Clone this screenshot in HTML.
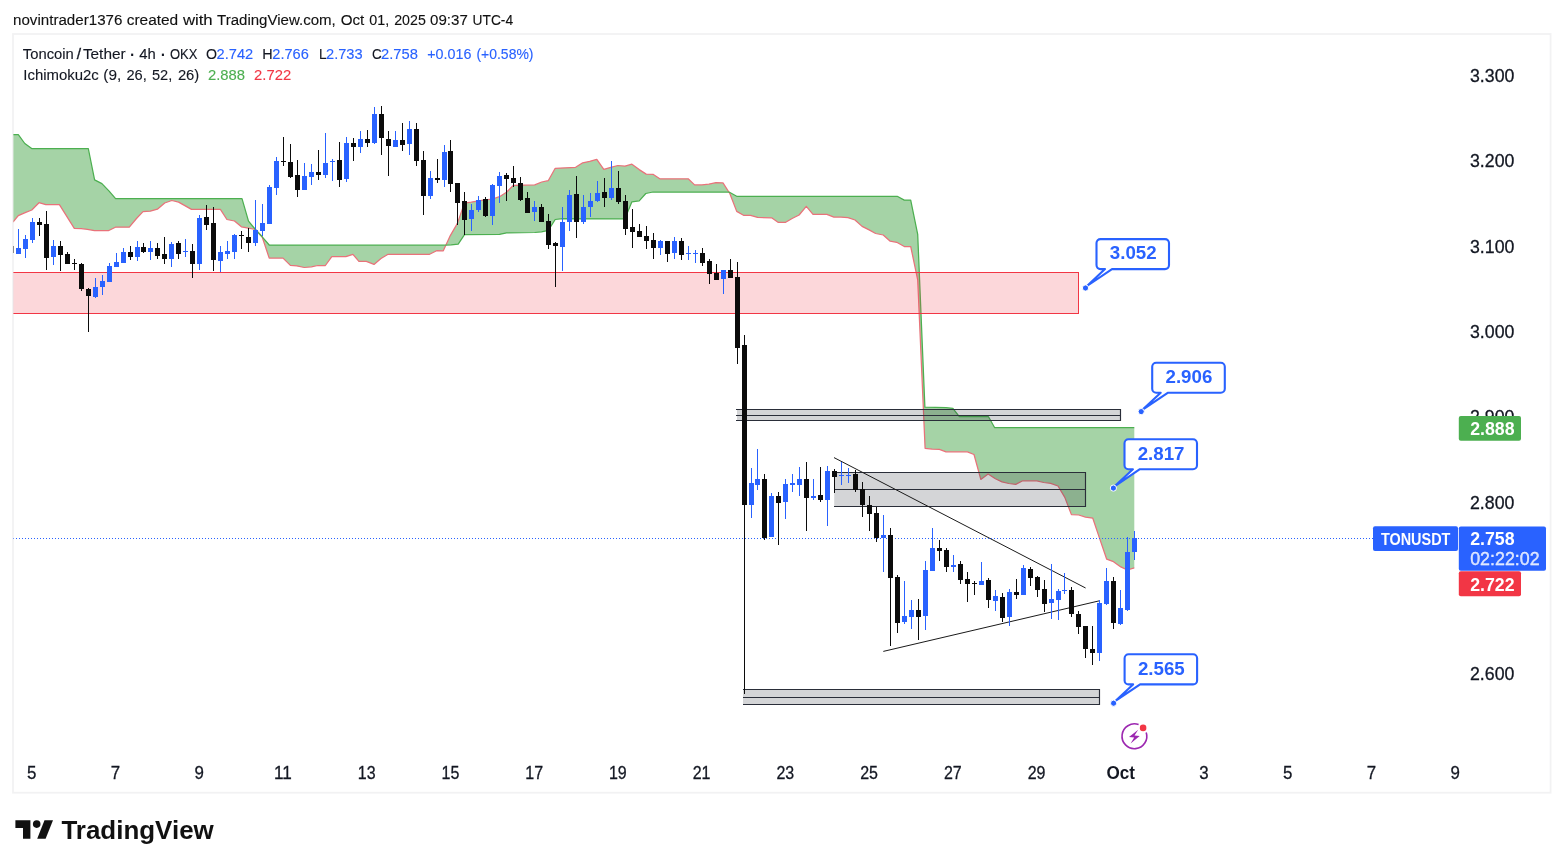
<!DOCTYPE html>
<html lang="en"><head><meta charset="utf-8"><title>TONUSDT chart</title>
<style>html,body{margin:0;padding:0;background:#fff;}body{width:1563px;height:868px;overflow:hidden;}</style>
</head><body>
<svg width="1563" height="868" viewBox="0 0 1563 868" font-family="'Liberation Sans', sans-serif" style="display:block">
<rect width="1563" height="868" fill="#ffffff"/>
<rect x="13" y="34" width="1537.6" height="758.7" fill="none" stroke="#f2f2f3" stroke-width="1.8"/>
<defs><clipPath id="pane"><rect x="13.4" y="35" width="1536.5" height="757"/></clipPath></defs>
<g clip-path="url(#pane)">
<path d="M13.0,134.7 L18.3,134.7 L24.8,143.5 L31.7,148.5 L88.3,148.5 L94.6,179.9 L101.9,183.6 L108.9,190.9 L115.6,198.7 L242.0,198.7 L248.5,221.2 L255.4,229.5 L262.2,236.8 L269.2,245.0 L444.4,245.2 L451.2,244.9 L458.2,244.1 L464.5,234.6 L499.5,234.4 L506.5,232.9 L534.7,232.5 L541.5,231.8 L548.3,230.4 L555.2,219.5 L562.5,218.7 L624.9,218.8 L631.9,201.8 L639.2,200.8 L645.8,193.5 L653.0,192.0 L729.0,192.0 L736.7,196.3 L897.2,196.3 L904.3,200.1 L910.7,200.1 L917.7,234.4 L924.9,407.2 L946.0,407.6 L952.9,408.3 L959.3,416.7 L988.5,416.7 L994.7,427.7 L1134.3,427.7 L1134.3,567.9 L1127.4,570.0 L1120.8,566.9 L1113.5,561.7 L1106.7,559.2 L1099.4,537.9 L1092.8,518.2 L1085.5,517.1 L1078.7,515.0 L1071.4,514.6 L1064.8,497.4 L1058.0,486.0 L1050.7,483.3 L1043.7,482.5 L1036.8,480.8 L1022.7,480.8 L1015.7,484.4 L1008.8,483.5 L1002.0,481.9 L995.4,478.8 L988.1,474.0 L980.8,479.4 L974.0,454.5 L967.4,451.8 L946.0,451.8 L939.4,449.3 L932.1,449.1 L925.1,448.3 L917.7,279.8 L910.7,246.5 L904.3,246.5 L896.7,242.3 L890.2,241.2 L883.2,235.0 L875.6,233.5 L869.1,229.9 L862.1,226.4 L855.0,220.0 L848.0,217.7 L840.9,217.1 L833.9,217.1 L826.9,214.3 L813.0,214.3 L806.3,206.3 L799.1,215.0 L792.1,218.5 L785.7,222.3 L778.0,222.3 L771.6,217.8 L757.6,217.4 L750.5,215.3 L743.5,215.3 L736.7,211.4 L729.8,193.5 L723.0,182.9 L716.0,182.6 L708.9,184.2 L701.9,184.9 L694.6,184.9 L688.2,178.8 L659.8,178.8 L653.0,174.3 L646.2,174.1 L639.2,169.6 L631.9,164.2 L625.0,166.1 L617.9,165.5 L610.8,167.3 L603.8,169.4 L596.8,159.3 L589.7,161.3 L582.7,162.8 L575.6,167.3 L555.2,168.3 L548.2,180.7 L541.7,182.0 L534.7,184.9 L513.5,185.3 L506.5,192.2 L499.5,196.7 L492.5,199.0 L485.4,199.9 L478.4,200.8 L471.3,202.2 L464.4,203.1 L457.4,223.4 L450.3,235.6 L443.3,250.8 L436.6,250.7 L429.6,254.3 L388.1,254.3 L381.0,258.5 L374.0,264.4 L366.3,261.3 L358.9,261.3 L352.9,254.3 L345.9,256.7 L331.8,256.7 L325.4,265.5 L317.9,265.5 L311.4,266.8 L304.3,267.5 L296.8,265.9 L290.4,265.4 L283.0,258.1 L269.2,258.1 L262.2,237.0 L255.4,229.5 L248.5,228.1 L241.4,226.8 L234.5,221.0 L226.9,219.5 L220.4,209.4 L191.5,209.4 L178.6,202.1 L171.8,200.5 L164.7,203.0 L157.4,209.2 L150.3,211.2 L143.0,211.6 L136.5,218.5 L129.3,227.2 L115.4,227.2 L108.3,230.7 L94.5,230.7 L87.4,229.3 L81.2,228.6 L74.3,228.3 L59.4,204.7 L45.8,204.7 L39.0,202.7 L31.8,210.0 L25.2,212.6 L18.3,215.6 L13.0,222.0Z" fill="#a5d3a6" stroke="none"/>
<polyline fill="none" stroke="#e9727a" stroke-width="1.25" stroke-linejoin="round" points="13.0,222.0 18.3,215.6 25.2,212.6 31.8,210.0 39.0,202.7 45.8,204.7 59.4,204.7 74.3,228.3 81.2,228.6 87.4,229.3 94.5,230.7 108.3,230.7 115.4,227.2 129.3,227.2 136.5,218.5 143.0,211.6 150.3,211.2 157.4,209.2 164.7,203.0 171.8,200.5 178.6,202.1 191.5,209.4 220.4,209.4 226.9,219.5 234.5,221.0 241.4,226.8 248.5,228.1 255.4,229.5 262.2,237.0 269.2,258.1 283.0,258.1 290.4,265.4 296.8,265.9 304.3,267.5 311.4,266.8 317.9,265.5 325.4,265.5 331.8,256.7 345.9,256.7 352.9,254.3 358.9,261.3 366.3,261.3 374.0,264.4 381.0,258.5 388.1,254.3 429.6,254.3 436.6,250.7 443.3,250.8 450.3,235.6 457.4,223.4 464.4,203.1 471.3,202.2 478.4,200.8 485.4,199.9 492.5,199.0 499.5,196.7 506.5,192.2 513.5,185.3 534.7,184.9 541.7,182.0 548.2,180.7 555.2,168.3 575.6,167.3 582.7,162.8 589.7,161.3 596.8,159.3 603.8,169.4 610.8,167.3 617.9,165.5 625.0,166.1 631.9,164.2 639.2,169.6 646.2,174.1 653.0,174.3 659.8,178.8 688.2,178.8 694.6,184.9 701.9,184.9 708.9,184.2 716.0,182.6 723.0,182.9 729.8,193.5 736.7,211.4 743.5,215.3 750.5,215.3 757.6,217.4 771.6,217.8 778.0,222.3 785.7,222.3 792.1,218.5 799.1,215.0 806.3,206.3 813.0,214.3 826.9,214.3 833.9,217.1 840.9,217.1 848.0,217.7 855.0,220.0 862.1,226.4 869.1,229.9 875.6,233.5 883.2,235.0 890.2,241.2 896.7,242.3 904.3,246.5 910.7,246.5 917.7,279.8 925.1,448.3 932.1,449.1 939.4,449.3 946.0,451.8 967.4,451.8 974.0,454.5 980.8,479.4 988.1,474.0 995.4,478.8 1002.0,481.9 1008.8,483.5 1015.7,484.4 1022.7,480.8 1036.8,480.8 1043.7,482.5 1050.7,483.3 1058.0,486.0 1064.8,497.4 1071.4,514.6 1078.7,515.0 1085.5,517.1 1092.8,518.2 1099.4,537.9 1106.7,559.2 1113.5,561.7 1120.8,566.9 1127.4,570.0 1134.3,567.9"/>
<polyline fill="none" stroke="#4caf50" stroke-width="1.25" stroke-linejoin="round" points="13.0,134.7 18.3,134.7 24.8,143.5 31.7,148.5 88.3,148.5 94.6,179.9 101.9,183.6 108.9,190.9 115.6,198.7 242.0,198.7 248.5,221.2 255.4,229.5 262.2,236.8 269.2,245.0 444.4,245.2 451.2,244.9 458.2,244.1 464.5,234.6 499.5,234.4 506.5,232.9 534.7,232.5 541.5,231.8 548.3,230.4 555.2,219.5 562.5,218.7 624.9,218.8 631.9,201.8 639.2,200.8 645.8,193.5 653.0,192.0 729.0,192.0 736.7,196.3 897.2,196.3 904.3,200.1 910.7,200.1 917.7,234.4 924.9,407.2 946.0,407.6 952.9,408.3 959.3,416.7 988.5,416.7 994.7,427.7 1134.3,427.7"/>
<rect x="5" y="272.5" width="1073.5" height="41" fill="#f23645" fill-opacity="0.2" stroke="#f23645" stroke-width="1"/>
<rect x="737" y="409.5" width="383.5" height="11" fill="#2a2e39" fill-opacity="0.2"/>
<path d="M736,409.5 H1120.5 V420.5 H736 M736,415.5 H1120.5" stroke="#2a2e39" stroke-width="1.15" fill="none"/>
<rect x="834.2" y="472.5" width="251.3" height="34" fill="#2a2e39" fill-opacity="0.2"/>
<path d="M834,472.5 H1085.5 V506.5 H834 M834,489.5 H1085.5" stroke="#2a2e39" stroke-width="1.15" fill="none"/>
<rect x="743" y="689.5" width="356.5" height="15" fill="#2a2e39" fill-opacity="0.2"/>
<path d="M743,689.5 H1099.5 V704.5 H743 M743,697.5 H1099.5" stroke="#2a2e39" stroke-width="1.15" fill="none"/>
<line x1="834" y1="457.6" x2="1085.6" y2="588" stroke="#1a1a1a" stroke-width="1"/>
<line x1="883.3" y1="651.4" x2="1099" y2="600.9" stroke="#1a1a1a" stroke-width="1"/>
<line x1="13" y1="538.5" x2="1458" y2="538.5" stroke="#2962ff" stroke-width="1" stroke-dasharray="1 2"/>
<rect x="18" y="229" width="1" height="25" fill="#2962ff"/>
<rect x="16" y="248" width="5" height="6" fill="#2962ff"/>
<rect x="25" y="235" width="1" height="23" fill="#2962ff"/>
<rect x="23" y="239" width="5" height="10" fill="#2962ff"/>
<rect x="32" y="218" width="1" height="25" fill="#2962ff"/>
<rect x="30" y="222" width="5" height="18" fill="#2962ff"/>
<rect x="39" y="218" width="1" height="18" fill="#0b0b0b"/>
<rect x="37" y="222" width="5" height="3" fill="#0b0b0b"/>
<rect x="46" y="211" width="1" height="59" fill="#0b0b0b"/>
<rect x="44" y="224" width="5" height="34" fill="#0b0b0b"/>
<rect x="53" y="240" width="1" height="25" fill="#2962ff"/>
<rect x="51" y="246" width="5" height="11" fill="#2962ff"/>
<rect x="60" y="241" width="1" height="30" fill="#0b0b0b"/>
<rect x="58" y="246" width="5" height="9" fill="#0b0b0b"/>
<rect x="67" y="252" width="1" height="12" fill="#0b0b0b"/>
<rect x="65" y="254" width="5" height="10" fill="#0b0b0b"/>
<rect x="74" y="259" width="1" height="11" fill="#0b0b0b"/>
<rect x="72" y="263" width="5" height="1" fill="#0b0b0b"/>
<rect x="81" y="263" width="1" height="28" fill="#0b0b0b"/>
<rect x="79" y="264" width="5" height="25" fill="#0b0b0b"/>
<rect x="88" y="288" width="1" height="44" fill="#0b0b0b"/>
<rect x="86" y="289" width="5" height="7" fill="#0b0b0b"/>
<rect x="95" y="278" width="1" height="20" fill="#2962ff"/>
<rect x="93" y="287" width="5" height="10" fill="#2962ff"/>
<rect x="102" y="275" width="1" height="20" fill="#2962ff"/>
<rect x="100" y="281" width="5" height="6" fill="#2962ff"/>
<rect x="109" y="263" width="1" height="19" fill="#2962ff"/>
<rect x="107" y="266" width="5" height="16" fill="#2962ff"/>
<rect x="116" y="253" width="1" height="14" fill="#2962ff"/>
<rect x="114" y="262" width="5" height="5" fill="#2962ff"/>
<rect x="123" y="248" width="1" height="15" fill="#2962ff"/>
<rect x="121" y="252" width="5" height="11" fill="#2962ff"/>
<rect x="130" y="246" width="1" height="14" fill="#0b0b0b"/>
<rect x="128" y="252" width="5" height="5" fill="#0b0b0b"/>
<rect x="137" y="241" width="1" height="20" fill="#2962ff"/>
<rect x="135" y="247" width="5" height="10" fill="#2962ff"/>
<rect x="143" y="243" width="1" height="10" fill="#0b0b0b"/>
<rect x="141" y="247" width="5" height="5" fill="#0b0b0b"/>
<rect x="150" y="241" width="1" height="19" fill="#2962ff"/>
<rect x="148" y="248" width="5" height="4" fill="#2962ff"/>
<rect x="157" y="243" width="1" height="16" fill="#0b0b0b"/>
<rect x="155" y="248" width="5" height="8" fill="#0b0b0b"/>
<rect x="164" y="237" width="1" height="27" fill="#0b0b0b"/>
<rect x="162" y="254" width="5" height="5" fill="#0b0b0b"/>
<rect x="171" y="242" width="1" height="25" fill="#2962ff"/>
<rect x="169" y="244" width="5" height="15" fill="#2962ff"/>
<rect x="178" y="241" width="1" height="18" fill="#0b0b0b"/>
<rect x="176" y="243" width="5" height="11" fill="#0b0b0b"/>
<rect x="185" y="239" width="1" height="18" fill="#2962ff"/>
<rect x="183" y="251" width="5" height="1" fill="#2962ff"/>
<rect x="192" y="244" width="1" height="34" fill="#0b0b0b"/>
<rect x="190" y="251" width="5" height="13" fill="#0b0b0b"/>
<rect x="199" y="215" width="1" height="55" fill="#2962ff"/>
<rect x="197" y="218" width="5" height="46" fill="#2962ff"/>
<rect x="206" y="205" width="1" height="25" fill="#0b0b0b"/>
<rect x="204" y="217" width="5" height="8" fill="#0b0b0b"/>
<rect x="213" y="207" width="1" height="64" fill="#0b0b0b"/>
<rect x="211" y="223" width="5" height="37" fill="#0b0b0b"/>
<rect x="220" y="246" width="1" height="26" fill="#2962ff"/>
<rect x="218" y="252" width="5" height="9" fill="#2962ff"/>
<rect x="227" y="241" width="1" height="18" fill="#2962ff"/>
<rect x="225" y="251" width="5" height="3" fill="#2962ff"/>
<rect x="234" y="234" width="1" height="25" fill="#2962ff"/>
<rect x="232" y="235" width="5" height="17" fill="#2962ff"/>
<rect x="241" y="231" width="1" height="18" fill="#0b0b0b"/>
<rect x="239" y="235" width="5" height="1" fill="#0b0b0b"/>
<rect x="248" y="228" width="1" height="24" fill="#0b0b0b"/>
<rect x="246" y="237" width="5" height="6" fill="#0b0b0b"/>
<rect x="255" y="200" width="1" height="46" fill="#2962ff"/>
<rect x="253" y="230" width="5" height="13" fill="#2962ff"/>
<rect x="262" y="204" width="1" height="32" fill="#2962ff"/>
<rect x="260" y="223" width="5" height="8" fill="#2962ff"/>
<rect x="269" y="185" width="1" height="39" fill="#2962ff"/>
<rect x="267" y="187" width="5" height="37" fill="#2962ff"/>
<rect x="276" y="157" width="1" height="38" fill="#2962ff"/>
<rect x="274" y="161" width="5" height="27" fill="#2962ff"/>
<rect x="283" y="137" width="1" height="29" fill="#0b0b0b"/>
<rect x="281" y="161" width="5" height="1" fill="#0b0b0b"/>
<rect x="290" y="144" width="1" height="34" fill="#0b0b0b"/>
<rect x="288" y="162" width="5" height="15" fill="#0b0b0b"/>
<rect x="297" y="160" width="1" height="37" fill="#0b0b0b"/>
<rect x="295" y="175" width="5" height="15" fill="#0b0b0b"/>
<rect x="304" y="163" width="1" height="27" fill="#2962ff"/>
<rect x="302" y="176" width="5" height="14" fill="#2962ff"/>
<rect x="311" y="164" width="1" height="21" fill="#2962ff"/>
<rect x="309" y="172" width="5" height="5" fill="#2962ff"/>
<rect x="318" y="150" width="1" height="30" fill="#0b0b0b"/>
<rect x="316" y="172" width="5" height="3" fill="#0b0b0b"/>
<rect x="325" y="133" width="1" height="45" fill="#2962ff"/>
<rect x="323" y="163" width="5" height="12" fill="#2962ff"/>
<rect x="332" y="159" width="1" height="22" fill="#2962ff"/>
<rect x="330" y="161" width="5" height="1" fill="#2962ff"/>
<rect x="339" y="142" width="1" height="45" fill="#0b0b0b"/>
<rect x="337" y="160" width="5" height="20" fill="#0b0b0b"/>
<rect x="346" y="137" width="1" height="45" fill="#2962ff"/>
<rect x="344" y="143" width="5" height="36" fill="#2962ff"/>
<rect x="353" y="138" width="1" height="23" fill="#0b0b0b"/>
<rect x="351" y="143" width="5" height="4" fill="#0b0b0b"/>
<rect x="360" y="131" width="1" height="22" fill="#2962ff"/>
<rect x="358" y="139" width="5" height="8" fill="#2962ff"/>
<rect x="367" y="130" width="1" height="17" fill="#0b0b0b"/>
<rect x="365" y="139" width="5" height="4" fill="#0b0b0b"/>
<rect x="374" y="107" width="1" height="37" fill="#2962ff"/>
<rect x="372" y="114" width="5" height="29" fill="#2962ff"/>
<rect x="381" y="106" width="1" height="49" fill="#0b0b0b"/>
<rect x="379" y="114" width="5" height="24" fill="#0b0b0b"/>
<rect x="388" y="131" width="1" height="45" fill="#0b0b0b"/>
<rect x="386" y="139" width="5" height="7" fill="#0b0b0b"/>
<rect x="395" y="131" width="1" height="16" fill="#2962ff"/>
<rect x="393" y="140" width="5" height="7" fill="#2962ff"/>
<rect x="402" y="123" width="1" height="28" fill="#0b0b0b"/>
<rect x="400" y="140" width="5" height="5" fill="#0b0b0b"/>
<rect x="409" y="121" width="1" height="34" fill="#2962ff"/>
<rect x="407" y="129" width="5" height="15" fill="#2962ff"/>
<rect x="416" y="123" width="1" height="43" fill="#0b0b0b"/>
<rect x="414" y="129" width="5" height="32" fill="#0b0b0b"/>
<rect x="423" y="151" width="1" height="64" fill="#0b0b0b"/>
<rect x="421" y="160" width="5" height="36" fill="#0b0b0b"/>
<rect x="430" y="171" width="1" height="28" fill="#2962ff"/>
<rect x="428" y="178" width="5" height="18" fill="#2962ff"/>
<rect x="437" y="159" width="1" height="24" fill="#0b0b0b"/>
<rect x="435" y="178" width="5" height="2" fill="#0b0b0b"/>
<rect x="444" y="145" width="1" height="42" fill="#2962ff"/>
<rect x="442" y="152" width="5" height="28" fill="#2962ff"/>
<rect x="450" y="140" width="1" height="52" fill="#0b0b0b"/>
<rect x="448" y="151" width="5" height="33" fill="#0b0b0b"/>
<rect x="457" y="183" width="1" height="42" fill="#0b0b0b"/>
<rect x="455" y="183" width="5" height="20" fill="#0b0b0b"/>
<rect x="464" y="192" width="1" height="43" fill="#0b0b0b"/>
<rect x="462" y="201" width="5" height="19" fill="#0b0b0b"/>
<rect x="471" y="204" width="1" height="27" fill="#2962ff"/>
<rect x="469" y="210" width="5" height="9" fill="#2962ff"/>
<rect x="478" y="196" width="1" height="16" fill="#2962ff"/>
<rect x="476" y="200" width="5" height="10" fill="#2962ff"/>
<rect x="485" y="197" width="1" height="20" fill="#0b0b0b"/>
<rect x="483" y="199" width="5" height="17" fill="#0b0b0b"/>
<rect x="492" y="184" width="1" height="41" fill="#2962ff"/>
<rect x="490" y="185" width="5" height="31" fill="#2962ff"/>
<rect x="499" y="172" width="1" height="31" fill="#2962ff"/>
<rect x="497" y="176" width="5" height="10" fill="#2962ff"/>
<rect x="506" y="173" width="1" height="28" fill="#0b0b0b"/>
<rect x="504" y="175" width="5" height="4" fill="#0b0b0b"/>
<rect x="513" y="166" width="1" height="21" fill="#0b0b0b"/>
<rect x="511" y="178" width="5" height="5" fill="#0b0b0b"/>
<rect x="520" y="177" width="1" height="24" fill="#0b0b0b"/>
<rect x="518" y="183" width="5" height="17" fill="#0b0b0b"/>
<rect x="527" y="192" width="1" height="21" fill="#0b0b0b"/>
<rect x="525" y="198" width="5" height="15" fill="#0b0b0b"/>
<rect x="534" y="201" width="1" height="20" fill="#2962ff"/>
<rect x="532" y="207" width="5" height="5" fill="#2962ff"/>
<rect x="541" y="204" width="1" height="18" fill="#0b0b0b"/>
<rect x="539" y="207" width="5" height="15" fill="#0b0b0b"/>
<rect x="548" y="214" width="1" height="35" fill="#0b0b0b"/>
<rect x="546" y="221" width="5" height="24" fill="#0b0b0b"/>
<rect x="555" y="242" width="1" height="45" fill="#0b0b0b"/>
<rect x="553" y="243" width="5" height="3" fill="#0b0b0b"/>
<rect x="562" y="207" width="1" height="64" fill="#2962ff"/>
<rect x="560" y="222" width="5" height="25" fill="#2962ff"/>
<rect x="569" y="190" width="1" height="41" fill="#2962ff"/>
<rect x="567" y="195" width="5" height="27" fill="#2962ff"/>
<rect x="576" y="176" width="1" height="62" fill="#0b0b0b"/>
<rect x="574" y="194" width="5" height="28" fill="#0b0b0b"/>
<rect x="583" y="195" width="1" height="29" fill="#2962ff"/>
<rect x="581" y="207" width="5" height="15" fill="#2962ff"/>
<rect x="590" y="193" width="1" height="24" fill="#2962ff"/>
<rect x="588" y="201" width="5" height="6" fill="#2962ff"/>
<rect x="597" y="181" width="1" height="21" fill="#2962ff"/>
<rect x="595" y="193" width="5" height="8" fill="#2962ff"/>
<rect x="604" y="178" width="1" height="29" fill="#0b0b0b"/>
<rect x="602" y="192" width="5" height="6" fill="#0b0b0b"/>
<rect x="611" y="161" width="1" height="39" fill="#2962ff"/>
<rect x="609" y="188" width="5" height="10" fill="#2962ff"/>
<rect x="618" y="171" width="1" height="33" fill="#0b0b0b"/>
<rect x="616" y="188" width="5" height="14" fill="#0b0b0b"/>
<rect x="625" y="195" width="1" height="40" fill="#0b0b0b"/>
<rect x="623" y="201" width="5" height="28" fill="#0b0b0b"/>
<rect x="632" y="209" width="1" height="39" fill="#0b0b0b"/>
<rect x="630" y="227" width="5" height="5" fill="#0b0b0b"/>
<rect x="639" y="224" width="1" height="13" fill="#0b0b0b"/>
<rect x="637" y="231" width="5" height="6" fill="#0b0b0b"/>
<rect x="646" y="226" width="1" height="23" fill="#0b0b0b"/>
<rect x="644" y="236" width="5" height="5" fill="#0b0b0b"/>
<rect x="653" y="233" width="1" height="26" fill="#0b0b0b"/>
<rect x="651" y="240" width="5" height="8" fill="#0b0b0b"/>
<rect x="660" y="240" width="1" height="15" fill="#2962ff"/>
<rect x="658" y="241" width="5" height="7" fill="#2962ff"/>
<rect x="667" y="241" width="1" height="21" fill="#0b0b0b"/>
<rect x="665" y="241" width="5" height="13" fill="#0b0b0b"/>
<rect x="674" y="237" width="1" height="22" fill="#2962ff"/>
<rect x="672" y="241" width="5" height="12" fill="#2962ff"/>
<rect x="681" y="238" width="1" height="22" fill="#0b0b0b"/>
<rect x="679" y="241" width="5" height="14" fill="#0b0b0b"/>
<rect x="688" y="246" width="1" height="14" fill="#2962ff"/>
<rect x="686" y="253" width="5" height="1" fill="#2962ff"/>
<rect x="695" y="250" width="1" height="13" fill="#2962ff"/>
<rect x="693" y="253" width="5" height="1" fill="#2962ff"/>
<rect x="702" y="248" width="1" height="18" fill="#0b0b0b"/>
<rect x="700" y="253" width="5" height="10" fill="#0b0b0b"/>
<rect x="709" y="259" width="1" height="25" fill="#0b0b0b"/>
<rect x="707" y="261" width="5" height="13" fill="#0b0b0b"/>
<rect x="716" y="264" width="1" height="16" fill="#0b0b0b"/>
<rect x="714" y="273" width="5" height="7" fill="#0b0b0b"/>
<rect x="723" y="270" width="1" height="24" fill="#2962ff"/>
<rect x="721" y="270" width="5" height="9" fill="#2962ff"/>
<rect x="730" y="259" width="1" height="19" fill="#0b0b0b"/>
<rect x="728" y="270" width="5" height="8" fill="#0b0b0b"/>
<rect x="737" y="262" width="1" height="102" fill="#0b0b0b"/>
<rect x="735" y="277" width="5" height="71" fill="#0b0b0b"/>
<rect x="744" y="335" width="1" height="359" fill="#0b0b0b"/>
<rect x="742" y="345" width="5" height="160" fill="#0b0b0b"/>
<rect x="751" y="468" width="1" height="50" fill="#2962ff"/>
<rect x="749" y="483" width="5" height="22" fill="#2962ff"/>
<rect x="757" y="449" width="1" height="41" fill="#2962ff"/>
<rect x="755" y="479" width="5" height="6" fill="#2962ff"/>
<rect x="764" y="474" width="1" height="66" fill="#0b0b0b"/>
<rect x="762" y="479" width="5" height="59" fill="#0b0b0b"/>
<rect x="771" y="493" width="1" height="44" fill="#2962ff"/>
<rect x="769" y="496" width="5" height="41" fill="#2962ff"/>
<rect x="778" y="492" width="1" height="53" fill="#0b0b0b"/>
<rect x="776" y="496" width="5" height="7" fill="#0b0b0b"/>
<rect x="785" y="479" width="1" height="40" fill="#2962ff"/>
<rect x="783" y="484" width="5" height="18" fill="#2962ff"/>
<rect x="792" y="474" width="1" height="18" fill="#2962ff"/>
<rect x="790" y="483" width="5" height="2" fill="#2962ff"/>
<rect x="799" y="467" width="1" height="29" fill="#2962ff"/>
<rect x="797" y="479" width="5" height="6" fill="#2962ff"/>
<rect x="806" y="462" width="1" height="69" fill="#0b0b0b"/>
<rect x="804" y="479" width="5" height="19" fill="#0b0b0b"/>
<rect x="813" y="479" width="1" height="21" fill="#2962ff"/>
<rect x="811" y="496" width="5" height="2" fill="#2962ff"/>
<rect x="820" y="467" width="1" height="35" fill="#0b0b0b"/>
<rect x="818" y="495" width="5" height="5" fill="#0b0b0b"/>
<rect x="827" y="466" width="1" height="60" fill="#2962ff"/>
<rect x="825" y="471" width="5" height="29" fill="#2962ff"/>
<rect x="834" y="469" width="1" height="24" fill="#0b0b0b"/>
<rect x="832" y="471" width="5" height="6" fill="#0b0b0b"/>
<rect x="841" y="462" width="1" height="23" fill="#2962ff"/>
<rect x="839" y="475" width="5" height="1" fill="#2962ff"/>
<rect x="848" y="468" width="1" height="15" fill="#2962ff"/>
<rect x="846" y="475" width="5" height="1" fill="#2962ff"/>
<rect x="855" y="470" width="1" height="22" fill="#0b0b0b"/>
<rect x="853" y="474" width="5" height="16" fill="#0b0b0b"/>
<rect x="862" y="482" width="1" height="35" fill="#0b0b0b"/>
<rect x="860" y="489" width="5" height="16" fill="#0b0b0b"/>
<rect x="869" y="496" width="1" height="35" fill="#0b0b0b"/>
<rect x="867" y="505" width="5" height="9" fill="#0b0b0b"/>
<rect x="876" y="507" width="1" height="35" fill="#0b0b0b"/>
<rect x="874" y="513" width="5" height="25" fill="#0b0b0b"/>
<rect x="883" y="515" width="1" height="57" fill="#2962ff"/>
<rect x="881" y="535" width="5" height="3" fill="#2962ff"/>
<rect x="890" y="528" width="1" height="118" fill="#0b0b0b"/>
<rect x="888" y="535" width="5" height="43" fill="#0b0b0b"/>
<rect x="897" y="575" width="1" height="58" fill="#0b0b0b"/>
<rect x="895" y="577" width="5" height="46" fill="#0b0b0b"/>
<rect x="904" y="581" width="1" height="43" fill="#2962ff"/>
<rect x="902" y="616" width="5" height="6" fill="#2962ff"/>
<rect x="911" y="600" width="1" height="29" fill="#2962ff"/>
<rect x="909" y="610" width="5" height="7" fill="#2962ff"/>
<rect x="918" y="599" width="1" height="41" fill="#0b0b0b"/>
<rect x="916" y="610" width="5" height="7" fill="#0b0b0b"/>
<rect x="925" y="561" width="1" height="69" fill="#2962ff"/>
<rect x="923" y="570" width="5" height="46" fill="#2962ff"/>
<rect x="932" y="528" width="1" height="43" fill="#2962ff"/>
<rect x="930" y="548" width="5" height="23" fill="#2962ff"/>
<rect x="939" y="540" width="1" height="21" fill="#0b0b0b"/>
<rect x="937" y="548" width="5" height="3" fill="#0b0b0b"/>
<rect x="946" y="548" width="1" height="24" fill="#0b0b0b"/>
<rect x="944" y="550" width="5" height="17" fill="#0b0b0b"/>
<rect x="953" y="555" width="1" height="17" fill="#2962ff"/>
<rect x="951" y="565" width="5" height="2" fill="#2962ff"/>
<rect x="960" y="561" width="1" height="23" fill="#0b0b0b"/>
<rect x="958" y="564" width="5" height="16" fill="#0b0b0b"/>
<rect x="967" y="572" width="1" height="30" fill="#0b0b0b"/>
<rect x="965" y="579" width="5" height="5" fill="#0b0b0b"/>
<rect x="974" y="581" width="1" height="14" fill="#0b0b0b"/>
<rect x="972" y="583" width="5" height="1" fill="#0b0b0b"/>
<rect x="981" y="562" width="1" height="23" fill="#2962ff"/>
<rect x="979" y="581" width="5" height="4" fill="#2962ff"/>
<rect x="988" y="578" width="1" height="30" fill="#0b0b0b"/>
<rect x="986" y="580" width="5" height="20" fill="#0b0b0b"/>
<rect x="995" y="590" width="1" height="21" fill="#2962ff"/>
<rect x="993" y="596" width="5" height="5" fill="#2962ff"/>
<rect x="1002" y="593" width="1" height="29" fill="#0b0b0b"/>
<rect x="1000" y="597" width="5" height="21" fill="#0b0b0b"/>
<rect x="1009" y="589" width="1" height="37" fill="#2962ff"/>
<rect x="1007" y="592" width="5" height="25" fill="#2962ff"/>
<rect x="1016" y="579" width="1" height="20" fill="#0b0b0b"/>
<rect x="1014" y="592" width="5" height="3" fill="#0b0b0b"/>
<rect x="1023" y="565" width="1" height="30" fill="#2962ff"/>
<rect x="1021" y="568" width="5" height="27" fill="#2962ff"/>
<rect x="1030" y="567" width="1" height="19" fill="#0b0b0b"/>
<rect x="1028" y="569" width="5" height="9" fill="#0b0b0b"/>
<rect x="1037" y="576" width="1" height="21" fill="#0b0b0b"/>
<rect x="1035" y="577" width="5" height="13" fill="#0b0b0b"/>
<rect x="1044" y="580" width="1" height="32" fill="#0b0b0b"/>
<rect x="1042" y="589" width="5" height="15" fill="#0b0b0b"/>
<rect x="1051" y="564" width="1" height="55" fill="#2962ff"/>
<rect x="1049" y="599" width="5" height="4" fill="#2962ff"/>
<rect x="1058" y="589" width="1" height="31" fill="#2962ff"/>
<rect x="1056" y="591" width="5" height="9" fill="#2962ff"/>
<rect x="1064" y="573" width="1" height="21" fill="#2962ff"/>
<rect x="1062" y="590" width="5" height="1" fill="#2962ff"/>
<rect x="1071" y="587" width="1" height="30" fill="#0b0b0b"/>
<rect x="1069" y="590" width="5" height="24" fill="#0b0b0b"/>
<rect x="1078" y="611" width="1" height="23" fill="#0b0b0b"/>
<rect x="1076" y="614" width="5" height="13" fill="#0b0b0b"/>
<rect x="1085" y="626" width="1" height="32" fill="#0b0b0b"/>
<rect x="1083" y="626" width="5" height="23" fill="#0b0b0b"/>
<rect x="1092" y="626" width="1" height="39" fill="#0b0b0b"/>
<rect x="1090" y="649" width="5" height="4" fill="#0b0b0b"/>
<rect x="1099" y="600" width="1" height="61" fill="#2962ff"/>
<rect x="1097" y="603" width="5" height="50" fill="#2962ff"/>
<rect x="1106" y="568" width="1" height="37" fill="#2962ff"/>
<rect x="1104" y="581" width="5" height="23" fill="#2962ff"/>
<rect x="1113" y="577" width="1" height="52" fill="#0b0b0b"/>
<rect x="1111" y="581" width="5" height="42" fill="#0b0b0b"/>
<rect x="1120" y="590" width="1" height="35" fill="#2962ff"/>
<rect x="1118" y="608" width="5" height="16" fill="#2962ff"/>
<rect x="1127" y="537" width="1" height="74" fill="#2962ff"/>
<rect x="1125" y="552" width="5" height="58" fill="#2962ff"/>
<rect x="1134" y="531" width="1" height="29" fill="#2962ff"/>
<rect x="1132" y="538" width="5" height="14" fill="#2962ff"/>
</g>
<rect x="13" y="246" width="1" height="7" fill="#8a8a8a"/>
<path d="M1105.0,269.1 L1087.0,286.0 L1112.0,269.1 H1165.0 A4,4 0 0 0 1169.0,265.1 V243.1 A4,4 0 0 0 1165.0,239.1 H1100.5 A4,4 0 0 0 1096.5,243.1 V265.1 A4,4 0 0 0 1100.5,269.1 Z" fill="#ffffff" stroke="#2962ff" stroke-width="2.1" stroke-linejoin="round"/>
<circle cx="1085.5" cy="288.0" r="3.1" fill="#2962ff" stroke="#ffffff" stroke-width="1"/>
<text x="1109.80" y="259.40" font-size="18" font-weight="bold" fill="#2962ff" textLength="46.80" lengthAdjust="spacingAndGlyphs" >3.052</text>
<path d="M1160.7,392.8 L1142.7,409.6 L1167.7,392.8 H1220.8 A4,4 0 0 0 1224.8,388.8 V366.7 A4,4 0 0 0 1220.8,362.7 H1156.2 A4,4 0 0 0 1152.2,366.7 V388.8 A4,4 0 0 0 1156.2,392.8 Z" fill="#ffffff" stroke="#2962ff" stroke-width="2.1" stroke-linejoin="round"/>
<circle cx="1141.2" cy="411.6" r="3.1" fill="#2962ff" stroke="#ffffff" stroke-width="1"/>
<text x="1165.50" y="383.00" font-size="18" font-weight="bold" fill="#2962ff" textLength="46.80" lengthAdjust="spacingAndGlyphs" >2.906</text>
<path d="M1132.9,469.2 L1114.9,486.1 L1139.9,469.2 H1193.0 A4,4 0 0 0 1197.0,465.2 V443.2 A4,4 0 0 0 1193.0,439.2 H1128.5 A4,4 0 0 0 1124.5,443.2 V465.2 A4,4 0 0 0 1128.5,469.2 Z" fill="#ffffff" stroke="#2962ff" stroke-width="2.1" stroke-linejoin="round"/>
<circle cx="1113.4" cy="488.1" r="3.1" fill="#2962ff" stroke="#ffffff" stroke-width="1"/>
<text x="1137.70" y="459.50" font-size="18" font-weight="bold" fill="#2962ff" textLength="46.80" lengthAdjust="spacingAndGlyphs" >2.817</text>
<path d="M1133.1,684.4 L1115.1,701.2 L1140.1,684.4 H1193.1 A4,4 0 0 0 1197.1,680.4 V658.2 A4,4 0 0 0 1193.1,654.2 H1128.6 A4,4 0 0 0 1124.6,658.2 V680.4 A4,4 0 0 0 1128.6,684.4 Z" fill="#ffffff" stroke="#2962ff" stroke-width="2.1" stroke-linejoin="round"/>
<circle cx="1113.6" cy="703.2" r="3.1" fill="#2962ff" stroke="#ffffff" stroke-width="1"/>
<text x="1137.90" y="674.60" font-size="18" font-weight="bold" fill="#2962ff" textLength="46.80" lengthAdjust="spacingAndGlyphs" >2.565</text>
<g fill="none" stroke="#9c27b0" stroke-width="1.6"><path d="M1138.6,724.6 A12.4,12.4 0 1 0 1146.2,732.4"/></g>
<path d="M1138.2,729.8 L1129,737 L1134.2,737.4 L1130.6,743.5 L1139.7,735.9 L1134.5,735.5 Z" fill="#9c27b0"/>
<circle cx="1143.1" cy="727.9" r="3.3" fill="#f23645"/>
<text x="1470.00" y="81.90" font-size="18.5" font-weight="normal" fill="#131722" textLength="44.40" lengthAdjust="spacingAndGlyphs"  stroke="#131722" stroke-width="0.3">3.300</text>
<text x="1470.00" y="167.29" font-size="18.5" font-weight="normal" fill="#131722" textLength="44.40" lengthAdjust="spacingAndGlyphs"  stroke="#131722" stroke-width="0.3">3.200</text>
<text x="1470.00" y="252.68" font-size="18.5" font-weight="normal" fill="#131722" textLength="44.40" lengthAdjust="spacingAndGlyphs"  stroke="#131722" stroke-width="0.3">3.100</text>
<text x="1470.00" y="338.07" font-size="18.5" font-weight="normal" fill="#131722" textLength="44.40" lengthAdjust="spacingAndGlyphs"  stroke="#131722" stroke-width="0.3">3.000</text>
<text x="1470.00" y="423.46" font-size="18.5" font-weight="normal" fill="#131722" textLength="44.40" lengthAdjust="spacingAndGlyphs"  stroke="#131722" stroke-width="0.3">2.900</text>
<text x="1470.00" y="508.85" font-size="18.5" font-weight="normal" fill="#131722" textLength="44.40" lengthAdjust="spacingAndGlyphs"  stroke="#131722" stroke-width="0.3">2.800</text>
<text x="1470.00" y="594.24" font-size="18.5" font-weight="normal" fill="#131722" textLength="44.40" lengthAdjust="spacingAndGlyphs"  stroke="#131722" stroke-width="0.3">2.700</text>
<text x="1470.00" y="679.63" font-size="18.5" font-weight="normal" fill="#131722" textLength="44.40" lengthAdjust="spacingAndGlyphs"  stroke="#131722" stroke-width="0.3">2.600</text>
<rect x="1458.8" y="415.9" width="62.2" height="24.9" rx="2" fill="#4caf50"/>
<text x="1470.20" y="435.20" font-size="18" font-weight="bold" fill="#ffffff" textLength="44.40" lengthAdjust="spacingAndGlyphs" >2.888</text>
<rect x="1373" y="526.2" width="85" height="24.8" rx="2" fill="#2962ff"/>
<text x="1380.90" y="545.10" font-size="17" font-weight="bold" fill="#ffffff" textLength="69.50" lengthAdjust="spacingAndGlyphs" >TONUSDT</text>
<rect x="1458.8" y="526.5" width="87.2" height="44.3" rx="2" fill="#2962ff"/>
<text x="1470.20" y="545.20" font-size="18" font-weight="bold" fill="#ffffff" textLength="44.40" lengthAdjust="spacingAndGlyphs" >2.758</text>
<text x="1470.20" y="565.20" font-size="18" font-weight="normal" fill="#ffffff" textLength="69.40" lengthAdjust="spacingAndGlyphs" fill-opacity="0.8" stroke="#ffffff" stroke-width="0.3">02:22:02</text>
<rect x="1458.8" y="571.3" width="62.2" height="24.9" rx="2" fill="#f23645"/>
<text x="1470.20" y="590.60" font-size="18" font-weight="bold" fill="#ffffff" textLength="44.40" lengthAdjust="spacingAndGlyphs" >2.722</text>
<text x="27.00" y="778.90" font-size="18.5" font-weight="normal" fill="#131722" textLength="9.40" lengthAdjust="spacingAndGlyphs"  stroke="#131722" stroke-width="0.3">5</text>
<text x="110.74" y="778.90" font-size="18.5" font-weight="normal" fill="#131722" textLength="9.40" lengthAdjust="spacingAndGlyphs"  stroke="#131722" stroke-width="0.3">7</text>
<text x="194.48" y="778.90" font-size="18.5" font-weight="normal" fill="#131722" textLength="9.40" lengthAdjust="spacingAndGlyphs"  stroke="#131722" stroke-width="0.3">9</text>
<text x="274.02" y="778.90" font-size="18.5" font-weight="normal" fill="#131722" textLength="17.80" lengthAdjust="spacingAndGlyphs"  stroke="#131722" stroke-width="0.3">11</text>
<text x="357.76" y="778.90" font-size="18.5" font-weight="normal" fill="#131722" textLength="17.80" lengthAdjust="spacingAndGlyphs"  stroke="#131722" stroke-width="0.3">13</text>
<text x="441.50" y="778.90" font-size="18.5" font-weight="normal" fill="#131722" textLength="17.80" lengthAdjust="spacingAndGlyphs"  stroke="#131722" stroke-width="0.3">15</text>
<text x="525.24" y="778.90" font-size="18.5" font-weight="normal" fill="#131722" textLength="17.80" lengthAdjust="spacingAndGlyphs"  stroke="#131722" stroke-width="0.3">17</text>
<text x="608.98" y="778.90" font-size="18.5" font-weight="normal" fill="#131722" textLength="17.80" lengthAdjust="spacingAndGlyphs"  stroke="#131722" stroke-width="0.3">19</text>
<text x="692.72" y="778.90" font-size="18.5" font-weight="normal" fill="#131722" textLength="17.80" lengthAdjust="spacingAndGlyphs"  stroke="#131722" stroke-width="0.3">21</text>
<text x="776.46" y="778.90" font-size="18.5" font-weight="normal" fill="#131722" textLength="17.80" lengthAdjust="spacingAndGlyphs"  stroke="#131722" stroke-width="0.3">23</text>
<text x="860.20" y="778.90" font-size="18.5" font-weight="normal" fill="#131722" textLength="17.80" lengthAdjust="spacingAndGlyphs"  stroke="#131722" stroke-width="0.3">25</text>
<text x="943.94" y="778.90" font-size="18.5" font-weight="normal" fill="#131722" textLength="17.80" lengthAdjust="spacingAndGlyphs"  stroke="#131722" stroke-width="0.3">27</text>
<text x="1027.68" y="778.90" font-size="18.5" font-weight="normal" fill="#131722" textLength="17.80" lengthAdjust="spacingAndGlyphs"  stroke="#131722" stroke-width="0.3">29</text>
<text x="1106.40" y="778.90" font-size="18" font-weight="bold" fill="#131722" textLength="28.50" lengthAdjust="spacingAndGlyphs" >Oct</text>
<text x="1199.36" y="778.90" font-size="18.5" font-weight="normal" fill="#131722" textLength="9.40" lengthAdjust="spacingAndGlyphs"  stroke="#131722" stroke-width="0.3">3</text>
<text x="1283.10" y="778.90" font-size="18.5" font-weight="normal" fill="#131722" textLength="9.40" lengthAdjust="spacingAndGlyphs"  stroke="#131722" stroke-width="0.3">5</text>
<text x="1366.84" y="778.90" font-size="18.5" font-weight="normal" fill="#131722" textLength="9.40" lengthAdjust="spacingAndGlyphs"  stroke="#131722" stroke-width="0.3">7</text>
<text x="1450.58" y="778.90" font-size="18.5" font-weight="normal" fill="#131722" textLength="9.40" lengthAdjust="spacingAndGlyphs"  stroke="#131722" stroke-width="0.3">9</text>
<rect x="1446" y="763" width="4.6" height="19" fill="#ffffff"/>
<text x="13.00" y="24.70" font-size="15.5" font-weight="normal" fill="#111111" textLength="109.40" lengthAdjust="spacingAndGlyphs"  stroke="#111111" stroke-width="0.12">novintrader1376</text>
<text x="126.70" y="24.70" font-size="15.5" font-weight="normal" fill="#111111" textLength="51.50" lengthAdjust="spacingAndGlyphs"  stroke="#111111" stroke-width="0.12">created</text>
<text x="182.90" y="24.70" font-size="15.5" font-weight="normal" fill="#111111" textLength="29.80" lengthAdjust="spacingAndGlyphs"  stroke="#111111" stroke-width="0.12">with</text>
<text x="217.00" y="24.70" font-size="15.5" font-weight="normal" fill="#111111" textLength="118.80" lengthAdjust="spacingAndGlyphs"  stroke="#111111" stroke-width="0.12">TradingView.com,</text>
<text x="340.70" y="24.70" font-size="15.5" font-weight="normal" fill="#111111" textLength="23.60" lengthAdjust="spacingAndGlyphs"  stroke="#111111" stroke-width="0.12">Oct</text>
<text x="369.30" y="24.70" font-size="15.5" font-weight="normal" fill="#111111" textLength="19.90" lengthAdjust="spacingAndGlyphs"  stroke="#111111" stroke-width="0.12">01,</text>
<text x="394.20" y="24.70" font-size="15.5" font-weight="normal" fill="#111111" textLength="31.60" lengthAdjust="spacingAndGlyphs"  stroke="#111111" stroke-width="0.12">2025</text>
<text x="430.10" y="24.70" font-size="15.5" font-weight="normal" fill="#111111" textLength="37.70" lengthAdjust="spacingAndGlyphs"  stroke="#111111" stroke-width="0.12">09:37</text>
<text x="472.60" y="24.70" font-size="15.5" font-weight="normal" fill="#111111" textLength="40.50" lengthAdjust="spacingAndGlyphs"  stroke="#111111" stroke-width="0.12">UTC-4</text>
<text x="22.80" y="58.80" font-size="15.5" font-weight="normal" fill="#131722" textLength="51.00" lengthAdjust="spacingAndGlyphs"  stroke="#131722" stroke-width="0.12">Toncoin</text>
<text x="78.80" y="58.80" font-size="15.5" font-weight="normal" fill="#131722" text-anchor="middle" stroke="#131722" stroke-width="0.3">/</text>
<text x="82.90" y="58.80" font-size="15.5" font-weight="normal" fill="#131722" textLength="42.70" lengthAdjust="spacingAndGlyphs"  stroke="#131722" stroke-width="0.12">Tether</text>
<text x="132.10" y="61.40" font-size="22" font-weight="normal" fill="#131722" text-anchor="middle" >·</text>
<text x="139.20" y="58.80" font-size="15.5" font-weight="normal" fill="#131722" textLength="16.50" lengthAdjust="spacingAndGlyphs"  stroke="#131722" stroke-width="0.12">4h</text>
<text x="162.80" y="61.40" font-size="22" font-weight="normal" fill="#131722" text-anchor="middle" >·</text>
<text x="169.90" y="58.80" font-size="15.5" font-weight="normal" fill="#131722" textLength="27.50" lengthAdjust="spacingAndGlyphs"  stroke="#131722" stroke-width="0.12">OKX</text>
<text x="205.90" y="58.80" font-size="15.5" font-weight="normal" fill="#131722" textLength="11.00" lengthAdjust="spacingAndGlyphs"  stroke="#131722" stroke-width="0.12">O</text>
<text x="216.60" y="58.80" font-size="15.5" font-weight="normal" fill="#2962ff" textLength="36.60" lengthAdjust="spacingAndGlyphs"  stroke="#2962ff" stroke-width="0.12">2.742</text>
<text x="262.30" y="58.80" font-size="15.5" font-weight="normal" fill="#131722" textLength="10.40" lengthAdjust="spacingAndGlyphs"  stroke="#131722" stroke-width="0.12">H</text>
<text x="272.30" y="58.80" font-size="15.5" font-weight="normal" fill="#2962ff" textLength="36.60" lengthAdjust="spacingAndGlyphs"  stroke="#2962ff" stroke-width="0.12">2.766</text>
<text x="318.90" y="58.80" font-size="15.5" font-weight="normal" fill="#131722" textLength="7.60" lengthAdjust="spacingAndGlyphs"  stroke="#131722" stroke-width="0.12">L</text>
<text x="326.00" y="58.80" font-size="15.5" font-weight="normal" fill="#2962ff" textLength="36.60" lengthAdjust="spacingAndGlyphs"  stroke="#2962ff" stroke-width="0.12">2.733</text>
<text x="372.00" y="58.80" font-size="15.5" font-weight="normal" fill="#131722" textLength="9.70" lengthAdjust="spacingAndGlyphs"  stroke="#131722" stroke-width="0.12">C</text>
<text x="381.00" y="58.80" font-size="15.5" font-weight="normal" fill="#2962ff" textLength="36.90" lengthAdjust="spacingAndGlyphs"  stroke="#2962ff" stroke-width="0.12">2.758</text>
<text x="427.20" y="58.80" font-size="15.5" font-weight="normal" fill="#2962ff" textLength="44.20" lengthAdjust="spacingAndGlyphs"  stroke="#2962ff" stroke-width="0.12">+0.016</text>
<text x="476.40" y="58.80" font-size="15.5" font-weight="normal" fill="#2962ff" textLength="57.10" lengthAdjust="spacingAndGlyphs"  stroke="#2962ff" stroke-width="0.12">(+0.58%)</text>
<text x="23.30" y="79.60" font-size="15.5" font-weight="normal" fill="#131722" textLength="75.50" lengthAdjust="spacingAndGlyphs"  stroke="#131722" stroke-width="0.12">Ichimoku2c</text>
<text x="103.30" y="79.60" font-size="15.5" font-weight="normal" fill="#131722" textLength="17.90" lengthAdjust="spacingAndGlyphs"  stroke="#131722" stroke-width="0.12">(9,</text>
<text x="126.40" y="79.60" font-size="15.5" font-weight="normal" fill="#131722" textLength="20.40" lengthAdjust="spacingAndGlyphs"  stroke="#131722" stroke-width="0.12">26,</text>
<text x="152.00" y="79.60" font-size="15.5" font-weight="normal" fill="#131722" textLength="20.30" lengthAdjust="spacingAndGlyphs"  stroke="#131722" stroke-width="0.12">52,</text>
<text x="177.90" y="79.60" font-size="15.5" font-weight="normal" fill="#131722" textLength="21.40" lengthAdjust="spacingAndGlyphs"  stroke="#131722" stroke-width="0.12">26)</text>
<text x="208.00" y="79.60" font-size="15.5" font-weight="normal" fill="#4caf50" textLength="37.10" lengthAdjust="spacingAndGlyphs"  stroke="#4caf50" stroke-width="0.12">2.888</text>
<text x="254.10" y="79.60" font-size="15.5" font-weight="normal" fill="#f23645" textLength="37.10" lengthAdjust="spacingAndGlyphs"  stroke="#f23645" stroke-width="0.12">2.722</text>
<g fill="#111111"><path d="M15.4,820.3 H30.4 V838.8 H23 V827.9 H15.4 Z"/><circle cx="36.7" cy="824.1" r="3.8"/><path d="M44.5,820.3 H53 L45.6,838.8 H37.2 Z"/></g>
<text x="61.40" y="838.80" font-size="26.6" font-weight="bold" fill="#111111" textLength="152.40" lengthAdjust="spacingAndGlyphs" >TradingView</text>
</svg>
</body></html>
